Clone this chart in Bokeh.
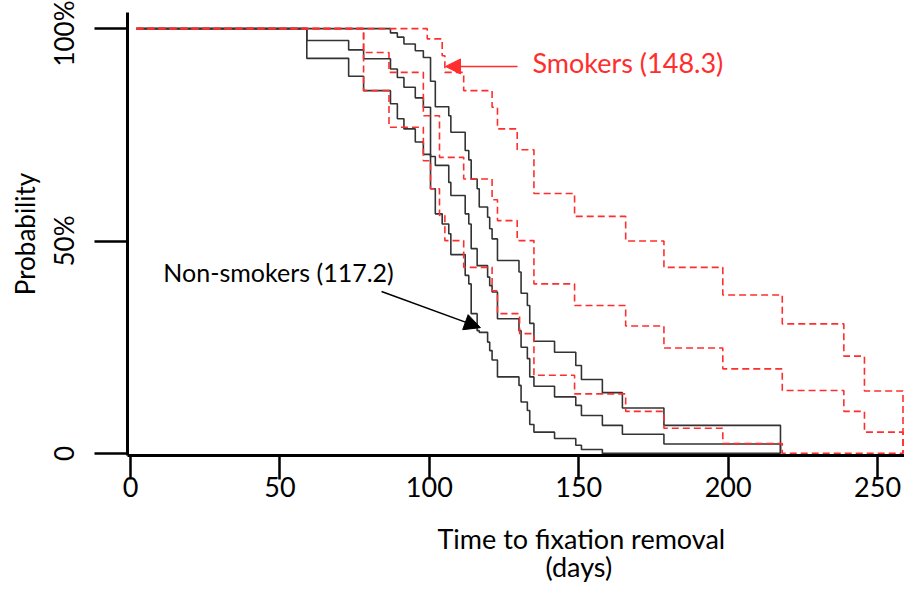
import math
from bokeh.plotting import figure
from bokeh.models import Label, Arrow, NormalHead, FixedTicker, Range1d, Title
from bokeh.embed import file_html
from bokeh.resources import INLINE

# Non-smokers: event times (days) and survival (%) - lower CI, estimate, upper CI
ns_t = [2, 59, 73, 78, 87, 89.3, 91.5, 95.3, 98, 100.4, 102, 104.3, 106.5, 107.2,
        112, 113.2, 114, 116, 116.7, 119.5, 120.2, 121, 122.8, 130, 130.7, 132.8,
        133.6, 135, 141.9, 149, 150.9, 157.9, 164.6, 178.5, 217.5]
ns_lo = [100, 93.0, 88.8, 85.4, 82.3, 78.8, 76.4, 73.3, 70.4, 62.3, 56.4, 54.0, 51.7, 46.8,
         41.9, 39.9, 32.9, 28.9, 28.5, 26.2, 24.2, 22.0, 18.0, 16.0, 12.1, 10.1,
         6.8, 5.0, 3.5, 1.9, 0.9, 0, 0, 0, 0]
ns_est = [100, 97.2, 95.0, 92.9, 90.5, 88.5, 86.2, 83.7, 81.5, 69.9, 67.8, 67.8, 63.8, 60.7,
          56.4, 54.0, 48.2, 44.2, 44.2, 41.5, 39.5, 38.0, 31.7, 28.9, 25.0, 22.3,
          18.0, 15.8, 13.3, 11.3, 8.9, 6.6, 4.5, 2.2, 0]
ns_hi = [100, 100, 100, 100, 99.0, 98.0, 96.4, 94.8, 93.2, 87.6, 81.6, 81.6, 79.5, 75.6,
         71.3, 69.1, 64.6, 62.3, 58.0, 55.6, 52.9, 50.5, 45.4, 42.7, 37.7, 34.8,
         30.6, 26.4, 23.8, 20.7, 17.4, 14.3, 10.7, 6.6, 0]

# Smokers
sm_t = [2, 78, 86.5, 98, 99.3, 100.4, 103.4, 104.3, 105.2, 111.5, 121, 122.8, 129.4,
        130.2, 135, 148.6, 165.7, 178.5, 198.2, 218.1, 238.7, 245.6, 258.5]
sm_lo = [100, 85.4, 76.8, 68.9, 68.9, 62.3, 56.0, 56.0, 50.1, 43.8, 38.3, 32.9, 32.9,
         28.2, 18.4, 14.0, 9.9, 5.9, 2.3, 0, 0, 0, 0]
sm_est = [100, 94.4, 89.7, 79.5, 79.5, 79.5, 69.7, 69.7, 69.7, 64.6, 59.7, 54.8, 50.1,
          50.1, 39.9, 34.8, 30.0, 24.8, 19.9, 14.8, 9.9, 5.0, 0]
sm_hi = [100, 100, 100, 100, 97.6, 97.6, 97.6, 93.6, 89.7, 85.4, 81.5, 76.4, 71.5,
         71.5, 61.2, 55.8, 50.0, 43.8, 37.3, 30.5, 22.9, 14.7, 0]

x_ticks = [0, 50, 100, 150, 200, 250]
y_ticks = [0, 50, 100]
y_tick_labels = ["0", "50%", "100%"]

FONT = "Lato"
RED = "#ff2e2e"
DARK = "#333333"

p = figure(width=904, height=589, x_range=Range1d(-1, 259.0), y_range=Range1d(-0.5, 103.8),
           output_backend="svg", toolbar_location=None,
           min_border_left=127, min_border_right=0, min_border_top=12, min_border_bottom=134)
p.outline_line_color = None
p.grid.visible = False
p.background_fill_color = "white"

for ys in (ns_lo, ns_est, ns_hi):
    p.step(ns_t, ys, mode="after", line_color=DARK, line_width=1.6)
for ys in (sm_lo, sm_est, sm_hi):
    p.step(sm_t, ys, mode="after", line_color=RED, line_width=1.6, line_dash="7 4")

xa = p.xaxis[0]
xa.ticker = FixedTicker(ticks=x_ticks)
xa.axis_line_width = 3
xa.axis_line_color = "black"
xa.major_tick_line_width = 2.5
xa.major_tick_line_color = "black"
xa.major_tick_out = 24
xa.major_tick_in = 0
xa.minor_tick_line_color = None
xa.major_label_text_font = FONT
xa.major_label_text_font_size = "27px"
xa.major_label_text_color = "black"
xa.major_label_standoff = -3

ya = p.yaxis[0]
ya.ticker = FixedTicker(ticks=y_ticks)
ya.major_label_overrides = {t: s for t, s in zip(y_ticks, y_tick_labels)}
ya.major_label_orientation = "vertical"
ya.axis_line_width = 3
ya.axis_line_color = "black"
ya.major_tick_line_width = 2.5
ya.major_tick_line_color = "black"
ya.major_tick_out = 33
ya.major_tick_in = 0
ya.minor_tick_line_color = None
ya.major_label_text_font = FONT
ya.major_label_text_font_size = "26px"
ya.major_label_text_color = "black"
ya.major_label_standoff = 14
ya.axis_label = "Probability"
ya.axis_label_text_font = FONT
ya.axis_label_text_font_size = "26px"
ya.axis_label_text_font_style = "normal"
ya.axis_label_text_color = "black"
ya.axis_label_standoff = 5

# x-axis title: two lines below the tick labels, centred on day 150 (offset from frame left)
t1 = Title(text="Time to fixation removal", align="left", offset=310, standoff=40,
           vertical_align="bottom", text_font=FONT, text_font_size="27px",
           text_font_style="normal", text_color="black")
t2 = Title(text="(days)", align="left", offset=418, vertical_align="top",
           text_font=FONT, text_font_size="27px", text_font_style="normal",
           text_color="black")
try:
    t2.standoff = -50
except Exception:
    t2.standoff = 0
p.add_layout(t1, "below")
p.add_layout(t2, "below")

p.add_layout(Label(x=134.5, y=92.0, text="Smokers (148.3)", text_font=FONT,
                   text_font_size="27px", text_color=RED, text_align="left",
                   text_baseline="middle"))
p.add_layout(Label(x=11.0, y=42.6, text="Non-smokers (117.2)", text_font=FONT,
                   text_font_size="25px", text_color="black", text_align="left",
                   text_baseline="middle"))

p.add_layout(Arrow(end=NormalHead(size=15, fill_color=RED, line_color=RED),
                   x_start=129.5, y_start=91.1, x_end=105.4, y_end=91.1,
                   line_color=RED, line_width=1.5))
p.add_layout(Arrow(end=NormalHead(size=16, fill_color="black", line_color="black"),
                   x_start=84.0, y_start=38.1, x_end=117.1, y_end=29.6,
                   line_color="black", line_width=1.5))

open("out.html", "w").write(file_html(p, INLINE))
